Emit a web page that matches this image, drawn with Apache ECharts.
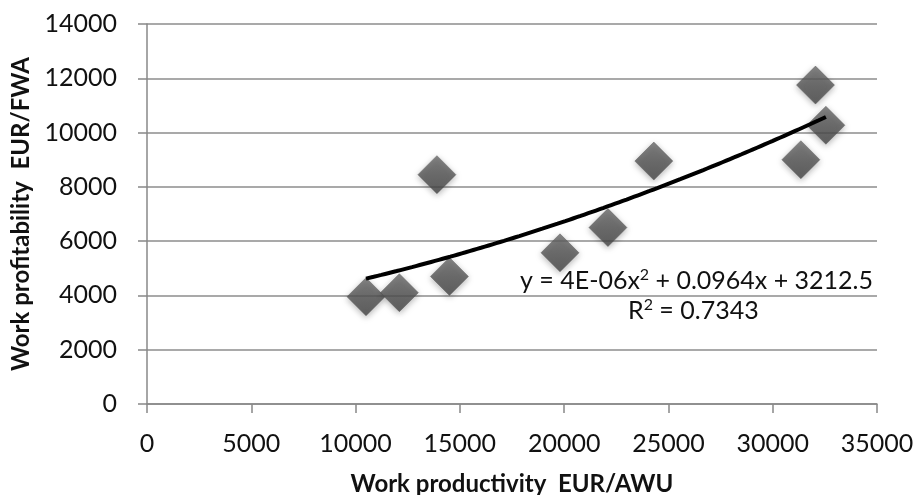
<!DOCTYPE html>
<html>
<head>
<meta charset="utf-8">
<script src="https://cdn.jsdelivr.net/npm/echarts@6/dist/echarts.min.js"></script>
<style>
html,body{margin:0;padding:0;background:#fff;}
#chart{width:916px;height:495px;}
</style>
</head>
<body>
<div id="chart"></div>
<script>
// Data
const productivity = [10500, 12100, 14500, 13900, 19800, 22100, 24300, 31350, 32550, 32050];
const profitability = [3950, 4100, 4700, 8450, 5570, 6500, 8950, 9000, 10270, 11750];
const xTicks = [0, 5000, 10000, 15000, 20000, 25000, 30000, 35000];
const yTicks = [0, 2000, 4000, 6000, 8000, 10000, 12000, 14000];
const equationText = 'y = 4E-06x{sup|2} + 0.0964x + 3212.5';
const r2Text = 'R{sup|2} = 0.7343';
const xTitle = 'Work productivity  EUR/AWU';
const yTitle = 'Work profitability  EUR/FWA';

// Polynomial (order 2) least-squares trendline computed from the data
function polyFit2(xs, ys) {
  const s = 10000;
  const n = xs.length;
  let S = [0,0,0,0,0], T = [0,0,0];
  for (let i = 0; i < n; i++) {
    const x = xs[i] / s, y = ys[i];
    let p = 1;
    for (let k = 0; k < 5; k++) { S[k] += p; if (k < 3) T[k] += p * y; p *= x; }
  }
  const A = [[S[0],S[1],S[2],T[0]],[S[1],S[2],S[3],T[1]],[S[2],S[3],S[4],T[2]]];
  for (let c = 0; c < 3; c++) {
    let m = c;
    for (let r = c + 1; r < 3; r++) if (Math.abs(A[r][c]) > Math.abs(A[m][c])) m = r;
    [A[c], A[m]] = [A[m], A[c]];
    for (let r = 0; r < 3; r++) {
      if (r === c) continue;
      const f = A[r][c] / A[c][c];
      for (let k = c; k < 4; k++) A[r][k] -= f * A[c][k];
    }
  }
  const a0 = A[0][3] / A[0][0], a1 = A[1][3] / A[1][1], a2 = A[2][3] / A[2][2];
  return x => a0 + a1 * (x / s) + a2 * (x / s) * (x / s);
}
const fit = polyFit2(productivity, profitability);
const xMin = Math.min(...productivity), xMax = Math.max(...productivity);
const trend = [];
for (let i = 0; i <= 60; i++) {
  const x = xMin + (xMax - xMin) * i / 60;
  trend.push([x, fit(x)]);
}

const points = productivity.map((x, i) => [x, profitability[i]]);
const FONT = 'Lato';
const plain = v => String(v);
const eqRich = {
  sup: { fontFamily: FONT, fontSize: 16, color: '#111', verticalAlign: 'top', lineHeight: 20 }
};

const chart = echarts.init(document.getElementById('chart'));
chart.setOption({
  animation: false,
  backgroundColor: '#ffffff',
  grid: { left: 147, right: 39, top: 24, bottom: 91, containLabel: false, outerBoundsMode: 'none' },
  xAxis: {
    type: 'value', min: xTicks[0], max: xTicks[xTicks.length - 1], interval: 5000,
    name: xTitle, nameLocation: 'middle', nameGap: 68,
    nameTextStyle: { fontFamily: FONT, fontWeight: 'bold', fontSize: 24, color: '#111' },
    axisLine: { show: true, lineStyle: { color: '#888', width: 1.5 } },
    axisTick: { show: true, length: 9, lineStyle: { color: '#888', width: 1.5 } },
    axisLabel: { fontFamily: FONT, fontSize: 25, color: '#111', margin: 27, formatter: plain },
    splitLine: { show: false }
  },
  yAxis: {
    type: 'value', min: yTicks[0], max: yTicks[yTicks.length - 1], interval: 2000,
    name: yTitle, nameLocation: 'middle', nameGap: 102, nameRotate: 90,
    nameTextStyle: { fontFamily: FONT, fontWeight: 'bold', fontSize: 24, color: '#111' },
    axisLine: { show: true, lineStyle: { color: '#888', width: 1.5 } },
    axisTick: { show: true, length: 9, lineStyle: { color: '#888', width: 1.5 } },
    axisLabel: { fontFamily: FONT, fontSize: 25, color: '#111', margin: 30, formatter: plain },
    splitLine: { show: true, lineStyle: { color: '#8c8c8c', width: 1.5 } }
  },
  series: [
    {
      type: 'scatter', data: points, symbol: 'diamond', symbolSize: 38, z: 2,
      itemStyle: {
        color: new echarts.graphic.LinearGradient(0, 0, 0, 1, [
          { offset: 0, color: '#6a6a6a' }, { offset: 0.5, color: '#555555' }, { offset: 1, color: '#444444' }
        ]),
        borderColor: '#505050', borderWidth: 0.5,
        shadowBlur: 6, shadowColor: 'rgba(0,0,0,0.35)', shadowOffsetY: 2
      }
    },
    {
      type: 'line', data: trend, showSymbol: false, smooth: true, z: 3,
      lineStyle: { color: '#000', width: 4 }
    }
  ],
  graphic: [
    { type: 'text', left: 520, top: 267, z: 10,
      style: { text: equationText, font: '25px Lato', fill: '#111', lineHeight: 28, rich: eqRich } },
    { type: 'text', left: 628, top: 297, z: 10,
      style: { text: r2Text, font: '25px Lato', fill: '#111', lineHeight: 28, rich: eqRich } }
  ]
});
</script>
</body>
</html>
